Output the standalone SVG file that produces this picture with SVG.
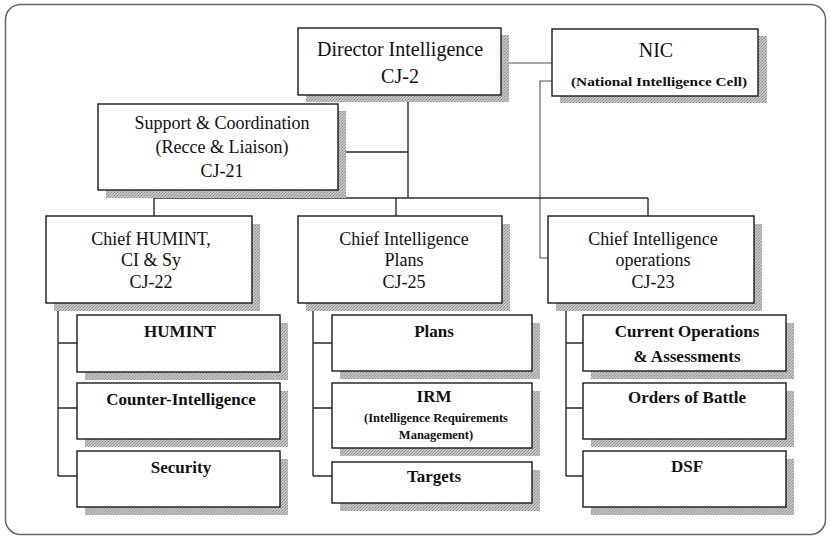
<svg xmlns="http://www.w3.org/2000/svg" width="831" height="538" viewBox="0 0 831 538">
  <defs>
    <!-- stippled grey used for the drop shadows -->
    <pattern id="dither" width="3" height="3" patternUnits="userSpaceOnUse">
      <rect width="3" height="3" fill="#c4c4c4"/>
      <rect x="0" y="0" width="1" height="1" fill="#8a8a8a"/>
      <rect x="2" y="1" width="1" height="1" fill="#9a9a9a"/>
      <rect x="1" y="2" width="1" height="1" fill="#a0a0a0"/>
    </pattern>
  </defs>
  <style>
    .frame { fill: #ffffff; stroke: #666666; stroke-width: 1.5; }
    .shadow { fill: url(#dither); }
    .box { fill: #ffffff; stroke: #1a1a1a; stroke-width: 1.4; }
    .conn { fill: none; stroke: #2a2a2a; stroke-width: 1.4; }
    .conn-light { fill: none; stroke: #555555; stroke-width: 1.1; }
    text { font-family: "Liberation Serif", "Times New Roman", serif; fill: #111111; text-anchor: middle; }
    .t20 { font-size: 20px; }
    .t18 { font-size: 18px; }
    .sub { font-size: 17px; font-weight: bold; }
    .note { font-size: 12.5px; font-weight: bold; }
  </style>

  <rect class="frame" x="5.5" y="4.5" width="820" height="530" rx="15" ry="15"/>

  <!-- connectors -->
  <g id="connectors">
    <path class="conn-light" d="M501 63 H552"/>
    <path class="conn-light" d="M552 81 H540 V258 H548"/>
    <path class="conn" d="M408 95 V198"/>
    <path class="conn" d="M338 152 H408"/>
    <path class="conn" d="M154 198 H648"/>
    <path class="conn" d="M154 198 V216"/>
    <path class="conn" d="M396 198 V216"/>
    <path class="conn" d="M648 198 V216"/>
    <path class="conn" d="M58 303 V476 M58 343 H77 M58 408 H77 M58 476 H77"/>
    <path class="conn" d="M313 303 V476 M313 343 H332 M313 408 H332 M313 476 H332"/>
    <path class="conn" d="M566 303 V476 M566 343 H583 M566 408 H583 M566 476 H583"/>
  </g>

  <!-- top level -->
  <g id="director">
    <rect class="shadow" x="306" y="35" width="203" height="67"/>
    <rect class="box" x="298" y="28" width="203" height="67"/>
    <text class="t20" x="400" y="56">Director Intelligence</text>
    <text class="t20" x="400" y="83">CJ-2</text>
  </g>

  <g id="nic">
    <rect class="shadow" x="560" y="36" width="207" height="67"/>
    <rect class="box" x="552" y="29" width="206" height="67"/>
    <text class="t20" x="656" y="57">NIC</text>
    <text class="note" x="659" y="86" textLength="176" lengthAdjust="spacingAndGlyphs">(National Intelligence Cell)</text>
  </g>

  <g id="support">
    <rect class="shadow" x="106" y="111" width="240" height="87"/>
    <rect class="box" x="98" y="104" width="240" height="86"/>
    <text class="t18" x="222" y="129">Support &amp; Coordination</text>
    <text class="t18" x="222" y="153">(Recce &amp; Liaison)</text>
    <text class="t18" x="222" y="177">CJ-21</text>
  </g>

  <!-- second level -->
  <g id="cj22">
    <rect class="shadow" x="54" y="224" width="206" height="87"/>
    <rect class="box" x="46" y="216" width="206" height="87"/>
    <text class="t18" x="151" y="245">Chief HUMINT,</text>
    <text class="t18" x="151" y="266">CI &amp; Sy</text>
    <text class="t18" x="151" y="288">CJ-22</text>
  </g>

  <g id="cj25">
    <rect class="shadow" x="306" y="224" width="204" height="87"/>
    <rect class="box" x="298" y="216" width="204" height="87"/>
    <text class="t18" x="404" y="245">Chief Intelligence</text>
    <text class="t18" x="404" y="266">Plans</text>
    <text class="t18" x="404" y="288">CJ-25</text>
  </g>

  <g id="cj23">
    <rect class="shadow" x="556" y="224" width="206" height="87"/>
    <rect class="box" x="548" y="216" width="206" height="87"/>
    <text class="t18" x="653" y="245">Chief Intelligence</text>
    <text class="t18" x="653" y="266">operations</text>
    <text class="t18" x="653" y="288">CJ-23</text>
  </g>

  <!-- HUMINT, CI & Sy sections -->
  <g id="humint">
    <rect class="shadow" x="85" y="323" width="203" height="57"/>
    <rect class="box" x="77" y="315" width="203" height="57"/>
    <text class="sub" x="180" y="337">HUMINT</text>
  </g>
  <g id="counter-intelligence">
    <rect class="shadow" x="85" y="391" width="203" height="56"/>
    <rect class="box" x="77" y="383" width="203" height="56"/>
    <text class="sub" x="181" y="405">Counter-Intelligence</text>
  </g>
  <g id="security">
    <rect class="shadow" x="85" y="459" width="203" height="56"/>
    <rect class="box" x="77" y="451" width="203" height="56"/>
    <text class="sub" x="181" y="473">Security</text>
  </g>

  <!-- Plans sections -->
  <g id="plans">
    <rect class="shadow" x="340" y="323" width="200" height="56"/>
    <rect class="box" x="332" y="315" width="200" height="56"/>
    <text class="sub" x="434" y="337">Plans</text>
  </g>
  <g id="irm">
    <rect class="shadow" x="340" y="391" width="200" height="65"/>
    <rect class="box" x="332" y="383" width="200" height="65"/>
    <text class="sub" x="434" y="402">IRM</text>
    <text class="note" x="436" y="422">(Intelligence Requirements</text>
    <text class="note" x="436" y="439">Management)</text>
  </g>
  <g id="targets">
    <rect class="shadow" x="340" y="470" width="200" height="41"/>
    <rect class="box" x="332" y="462" width="200" height="41"/>
    <text class="sub" x="434" y="482">Targets</text>
  </g>

  <!-- Operations sections -->
  <g id="current-operations">
    <rect class="shadow" x="591" y="323" width="203" height="56"/>
    <rect class="box" x="583" y="315" width="203" height="56"/>
    <text class="sub" x="687" y="337">Current Operations</text>
    <text class="sub" x="687" y="362">&amp; Assessments</text>
  </g>
  <g id="orders-of-battle">
    <rect class="shadow" x="591" y="391" width="203" height="56"/>
    <rect class="box" x="583" y="383" width="203" height="56"/>
    <text class="sub" x="687" y="403">Orders of Battle</text>
  </g>
  <g id="dsf">
    <rect class="shadow" x="591" y="459" width="203" height="56"/>
    <rect class="box" x="583" y="451" width="203" height="56"/>
    <text class="sub" x="687" y="472">DSF</text>
  </g>
</svg>
